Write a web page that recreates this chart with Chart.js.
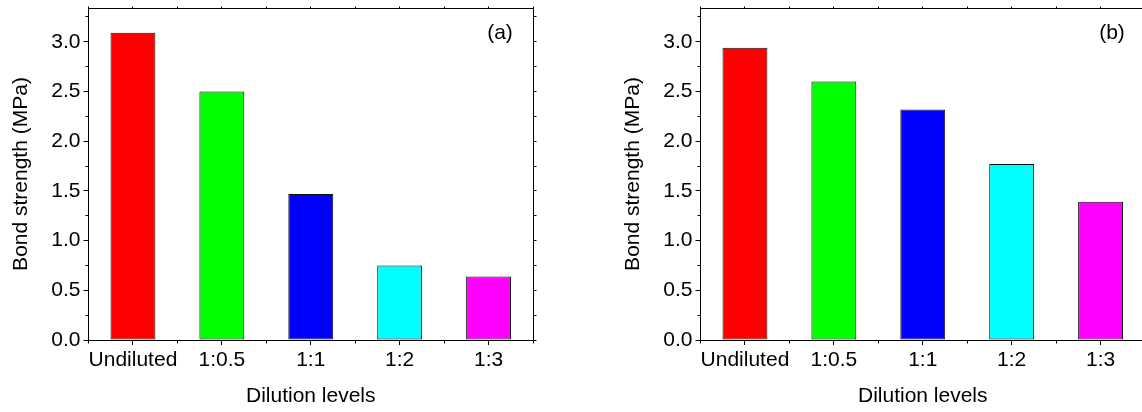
<!DOCTYPE html>
<html>
<head>
<meta charset="utf-8">
<script src="https://cdn.jsdelivr.net/npm/chart.js@4.4.1/dist/chart.umd.min.js"></script>
<style>
  html, body { margin: 0; padding: 0; background: #fff; overflow: hidden; }
  body { width: 1142px; height: 412px; position: relative; }
  .panel { position: absolute; top: 0; width: 571px; height: 412px; }
  #panelA { left: 0; }
  #panelB { left: 612px; }
</style>
</head>
<body>
<div class="panel" id="panelA"><canvas id="chartA" width="571" height="412"></canvas></div>
<div class="panel" id="panelB"><canvas id="chartB" width="571" height="412"></canvas></div>
<script>
// data
const categories = ['Undiluted', '1:0.5', '1:1', '1:2', '1:3'];
const strengthA = [3.09, 2.50, 1.47, 0.75, 0.64];
const strengthB = [2.94, 2.60, 2.32, 1.77, 1.39];
const yMajorTicks = [0, 0.5, 1.0, 1.5, 2.0, 2.5, 3.0];
const yMinorTicks = [0.25, 0.75, 1.25, 1.75, 2.25, 2.75, 3.25];
const panelLabels = ['(a)', '(b)'];

const barColors = ['#ff0000', '#00ff00', '#0000ff', '#00ffff', '#ff00ff'];
const FONT = "'Liberation Sans', Arial, sans-serif";

function crisp(p) {
    return Math.round(p - 0.5) + 0.5;
}

/**
 * Origin-style frame: right/top axis lines, minor ticks and the panel tag
 */
const frameTicks = {
    id: 'frameTicks',
    afterDraw: function(chart, args, opts) {
        const ctx = chart.ctx;
        const a = chart.chartArea;
        const x = chart.scales.x;
        const y = chart.scales.y;
        const L = crisp(a.left), R = crisp(a.right);
        const T = crisp(a.top), B = crisp(a.bottom);

        ctx.save();
        ctx.strokeStyle = '#000';
        ctx.lineWidth = 1;
        ctx.beginPath();
        // top and right border
        ctx.moveTo(L, T); ctx.lineTo(R, T); ctx.lineTo(R, B);

        // left minor ticks (outward)
        yMinorTicks.forEach(function(v) {
            const py = crisp(y.getPixelForValue(v));
            ctx.moveTo(L - 3, py); ctx.lineTo(L, py);
        });
        // right ticks, all values (outward)
        yMajorTicks.concat(yMinorTicks).forEach(function(v) {
            const py = crisp(y.getPixelForValue(v));
            ctx.moveTo(R, py); ctx.lineTo(R + 3, py);
        });

        // category boundaries for x minor ticks
        const bounds = [];
        for (let i = 0; i <= categories.length; i++) {
            bounds.push(x.getPixelForValue(i - 0.5));
        }
        bounds.forEach(function(px) {
            px = crisp(px);
            ctx.moveTo(px, B); ctx.lineTo(px, B + 3);
            ctx.moveTo(px, T); ctx.lineTo(px, T - 2);
        });
        categories.forEach(function(c, i) {
            const px = crisp(x.getPixelForValue(i));
            ctx.moveTo(px, T); ctx.lineTo(px, T - 2);
        });
        ctx.stroke();

        // panel tag
        ctx.fillStyle = '#000';
        ctx.font = '21px ' + FONT;
        ctx.textAlign = 'center';
        ctx.textBaseline = 'middle';
        ctx.fillText(opts.tag, a.right - 33, a.top + 25);
        ctx.restore();
    }
};

function makeChart(canvasId, values, tag) {
    const ctx = document.getElementById(canvasId);
    return new Chart(ctx, {
        type: 'bar',
        data: {
            labels: categories,
            datasets: [{
                data: values,
                backgroundColor: barColors,
                borderColor: '#111',
                borderWidth: 1,
                borderSkipped: false,
                categoryPercentage: 1.0,
                barPercentage: 0.505
            }]
        },
        options: {
            responsive: false,
            animation: false,
            layout: {
                padding: { top: 8, right: 38, left: 0, bottom: 0 }
            },
            plugins: {
                legend: { display: false },
                tooltip: { enabled: false },
                frameTicks: { tag: tag }
            },
            scales: {
                x: {
                    offset: true,
                    grid: {
                        offset: false,
                        drawOnChartArea: false,
                        drawTicks: true,
                        tickLength: 5,
                        color: '#000'
                    },
                    border: { display: true, color: '#000', width: 1 },
                    ticks: {
                        color: '#000',
                        padding: 3,
                        maxRotation: 0,
                        autoSkip: false,
                        font: { family: FONT, size: 21 }
                    },
                    title: {
                        display: true,
                        text: 'Dilution levels',
                        color: '#000',
                        padding: { top: 0, bottom: 3 },
                        font: { family: FONT, size: 21 }
                    },
                    afterFit: function(scale) {
                        scale.height = 72;
                        scale.paddingLeft = 0;
                        scale.paddingRight = 0;
                    }
                },
                y: {
                    min: 0,
                    max: 3.34,
                    grid: {
                        drawOnChartArea: false,
                        drawTicks: true,
                        tickLength: 5,
                        color: '#000'
                    },
                    border: { display: true, color: '#000', width: 1 },
                    ticks: {
                        color: '#000',
                        padding: 3,
                        includeBounds: false,
                        font: { family: FONT, size: 21 },
                        callback: function(v) { return Number(v).toFixed(1); }
                    },
                    afterBuildTicks: function(scale) {
                        scale.ticks = yMajorTicks.map(function(v) { return { value: v }; });
                    },
                    title: {
                        display: true,
                        text: 'Bond strength (MPa)',
                        color: '#000',
                        padding: { top: 9, bottom: 0 },
                        font: { family: FONT, size: 21 }
                    },
                    afterFit: function(scale) {
                        scale.width = 88.5;
                        scale.paddingTop = 0;
                        scale.paddingBottom = 0;
                    }
                }
            }
        },
        plugins: [frameTicks]
    });
}

makeChart('chartA', strengthA, panelLabels[0]);
makeChart('chartB', strengthB, panelLabels[1]);
</script>
</body>
</html>
